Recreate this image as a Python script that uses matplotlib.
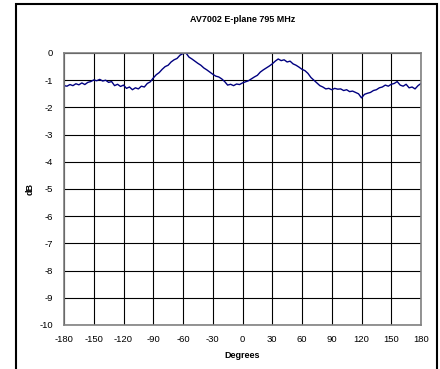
import matplotlib
matplotlib.use("Agg")
import matplotlib.pyplot as plt
import numpy as np
from matplotlib.patches import Rectangle

plt.rcParams['font.family'] = ['Liberation Sans', 'DejaVu Sans']
plt.rcParams['axes.unicode_minus'] = False

# measured E-plane pattern, sampled every 3 degrees
degrees = np.arange(-180, 181, 3)
level_db = [
    -1.20, -1.22, -1.16, -1.20, -1.13, -1.17, -1.10, -1.16, -1.08, -1.05,
    -0.99, -1.02, -0.97, -1.03, -1.00, -1.08, -1.05, -1.20, -1.15, -1.23,
    -1.18, -1.30, -1.25, -1.35, -1.28, -1.32, -1.22, -1.25, -1.12, -1.06,
    -0.92, -0.80, -0.72, -0.60, -0.50, -0.45, -0.33, -0.25, -0.20, -0.08,
    -0.02, 0.00, -0.15, -0.22, -0.30, -0.38, -0.45, -0.55, -0.62, -0.70,
    -0.78, -0.85, -0.88, -0.95, -1.05, -1.18, -1.15, -1.20, -1.14, -1.16,
    -1.10, -1.06, -1.02, -0.95, -0.88, -0.82, -0.70, -0.62, -0.55, -0.48,
    -0.40, -0.30, -0.22, -0.28, -0.25, -0.33, -0.30, -0.40, -0.45, -0.52,
    -0.60, -0.65, -0.75, -0.90, -1.00, -1.10, -1.20, -1.25, -1.32, -1.30,
    -1.35, -1.30, -1.33, -1.32, -1.38, -1.35, -1.42, -1.40, -1.45, -1.50,
    -1.65, -1.52, -1.48, -1.45, -1.38, -1.35, -1.28, -1.25, -1.18, -1.22,
    -1.15, -1.12, -1.05, -1.18, -1.22, -1.15, -1.28, -1.25, -1.32, -1.20,
    -1.12,
]
x_ticks = list(range(-180, 181, 30))
y_ticks = list(range(-10, 1, 1))

fig = plt.figure(figsize=(4.4, 3.69), dpi=100)
fig.patches.append(Rectangle((16 / 440, -0.05), 421 / 440, 1.05 - 4 / 369,
                             transform=fig.transFigure, fill=False,
                             edgecolor='black', linewidth=1.5))

ax = fig.add_axes([64 / 440, 1 - 325 / 369, 357 / 440, 272 / 369])
ax.plot(degrees, level_db, color='#000080', linewidth=1.0)

ax.set_xlim(-180, 180)
ax.set_ylim(-10, 0)
ax.set_xticks(x_ticks)
ax.set_yticks(y_ticks)
ax.grid(True, color='black', linewidth=0.8)
ax.set_axisbelow(True)
for s in ax.spines.values():
    s.set_color('#808080')
    s.set_linewidth(1.2)
ax.tick_params(length=0, labelsize=6.8)
ax.tick_params(axis='x', pad=7)
ax.tick_params(axis='y', pad=8)

ax.set_title('AV7002 E-plane 795 MHz', fontsize=6.5, fontweight='bold', pad=22)
ax.set_xlabel('Degrees', fontsize=6.5, fontweight='bold', labelpad=5)
ax.set_ylabel('dB', fontsize=6.5, fontweight='bold', labelpad=3)

fig.savefig('out.png', dpi=100)
